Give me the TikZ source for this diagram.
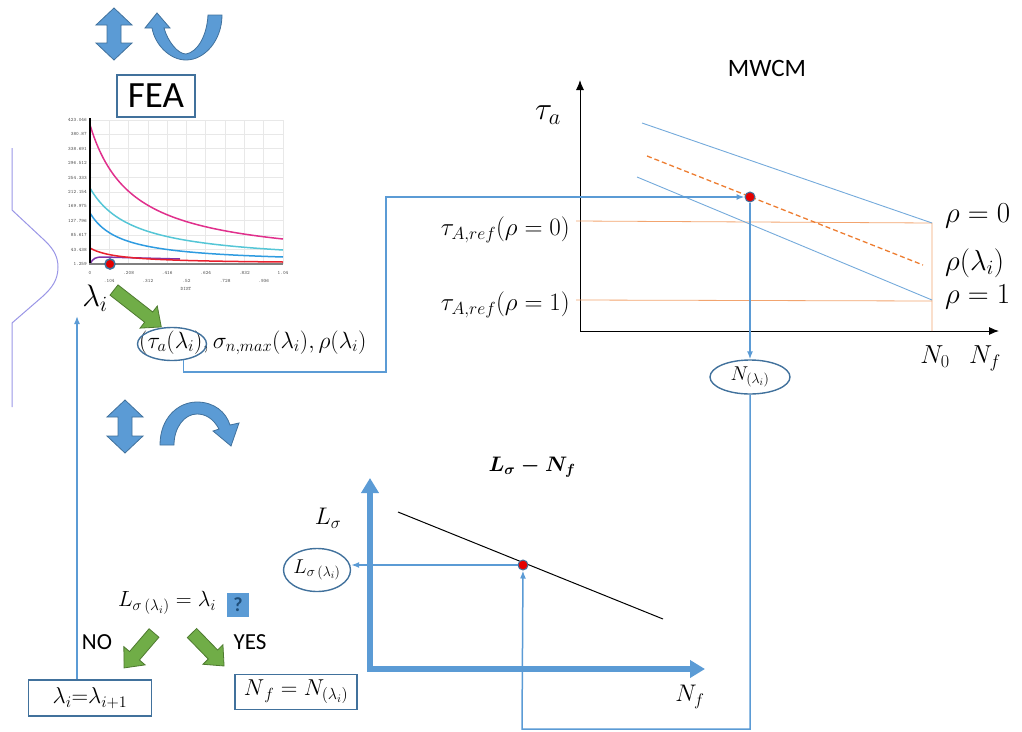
\RequirePackage{fix-cm}
\documentclass[tikz,border=0pt]{standalone}
\usepackage{amsmath}
\usepackage{fontspec}
\setsansfont{Carlito}
\usetikzlibrary{arrows.meta,shapes.geometric}

\definecolor{lnblue}{HTML}{5B9BD5}
\definecolor{dkblue}{HTML}{41719C}
\definecolor{qblue}{HTML}{1F4E79}
\definecolor{arrgreen}{HTML}{70AD47}
\definecolor{dkgreen}{HTML}{4E7A30}
\definecolor{snorange}{HTML}{ED7D31}
\definecolor{lavline}{HTML}{9A96E6}
\definecolor{femag}{HTML}{E0308C}
\definecolor{fecyan}{HTML}{55C6D6}
\definecolor{feblue}{HTML}{2E9BE0}
\definecolor{fered}{HTML}{E8202E}
\definecolor{fepurp}{HTML}{8034A8}

\newcommand\fs[1]{\fontsize{#1}{#1}\selectfont}

% 绿色块箭头：#1 尾点，#2 角度，#3 长度
\newcommand\garrow[3]{%
  \filldraw[garr, shift={#1}, rotate=#2]
    (0,-6.5) -- ({#3-16},-6.5) -- ({#3-16},-14) -- (#3,0)
    -- ({#3-16},14) -- ({#3-16},6.5) -- (0,6.5) -- cycle;}

% 蓝色上下双箭头：#1 上尖端，#2 总高
\newcommand\dblarrow[2]{%
  \filldraw[barr, shift={#1}]
    (0,0) -- (18,17) -- (7,17) -- (7,{#2-17}) -- (18,{#2-17}) -- (0,#2)
    -- (-18,{#2-17}) -- (-7,{#2-17}) -- (-7,17) -- (-18,17) -- cycle;}

\tikzset{
  flow/.style={draw=lnblue, line width=1.5pt, -{Latex[length=8pt,width=6pt]}},
  ell/.style={ellipse, draw=dkblue, line width=1.4pt, inner sep=0},
  tbox/.style={draw=dkblue, line width=1.4pt, inner sep=0},
  rdot/.style={circle, fill=red!90!black, draw=dkblue, line width=1pt, minimum size=10pt, inner sep=0},
  garr/.style={fill=arrgreen, draw=dkgreen, line width=0.8pt, line join=miter},
  barr/.style={fill=lnblue, draw=dkblue, line width=0.8pt, line join=miter},
  fegrid/.style={draw=gray!18, line width=0.8pt},
  fetick/.style={font=\ttfamily\fs{5}, text=gray!60!black, inner sep=0},
  snline/.style={draw=lnblue!85, line width=0.9pt},
  refline/.style={draw=snorange!70, line width=0.8pt},
  mlabel/.style={inner sep=0},
}

\begin{document}
\begin{tikzpicture}[x=1pt, y=-1pt, line cap=butt]

  \useasboundingbox (0,0) rectangle (1022,731);

  % ── 左上：双箭头 + U 形箭头 ──
  \dblarrow{(114,8)}{52}
  \filldraw[barr] (208,15) -- (222,15) .. controls (222,40) and (205,60) .. (186,60)
    .. controls (170,60) and (155,45) .. (152,28) -- (145,28) -- (157,13) -- (170,28) -- (164,28)
    .. controls (168,42) and (178,54) .. (186,54) .. controls (198,52) and (207,35) .. (208,15) -- cycle;

  \node[tbox, line width=2.5pt, minimum width=78pt, minimum height=42pt] (fea) at (156,96) {\sffamily\fs{37}FEA};

  % ── FEA 曲线图 ──
  \foreach \k in {1,...,10} {
    \draw[fegrid] ({90+19.3*\k},120) -- ({90+19.3*\k},264);
    \draw[fegrid] (90,{120+14.4*(\k-1)}) -- (283,{120+14.4*(\k-1)});
  }
  \foreach \v [count=\k from 0] in {423.046,380.87,338.691,296.512,254.333,212.154,169.975,127.796,85.617,43.438,1.259}
    \node[fetick, anchor=east] at (87,{120+14.4*\k}) {\v};
  \foreach \v [count=\k from 0] in {0,.208,.416,.624,.832,1.04}
    \node[fetick] at ({90+38.6*\k},273) {\v};
  \foreach \v [count=\k from 0] in {.104,.312,.52,.728,.936}
    \node[fetick] at ({109.3+38.6*\k},281) {\v};
  \node[fetick] at (186,289) {DIST};

  \draw[femag, line width=1.5pt] plot[domain=0:193, samples=60, smooth] ({90+\x},{264-5882/(\x+42.3)});
  \draw[fecyan, line width=1.5pt] plot[domain=0:193, samples=60, smooth] ({90+\x},{264-3313/(\x+43.6)});
  \draw[feblue, line width=1.5pt] plot[domain=0:193, samples=60, smooth] ({90+\x},{264-1566/(\x+30.7)});
  \draw[fepurp, line width=1.5pt] (90,264) .. controls (93,258) and (96,257) .. (103,257) -- (180,259);
  \draw[fered, line width=1.5pt] plot[domain=0:193, samples=60, smooth] ({90+\x},{264-441/(\x+27.6)});
  \draw[black, line width=2.5pt] (90,118) -- (90,265);
  \draw[gray, line width=2.5pt] (89,264) -- (283,264);
  \node[rdot, line width=1.6pt] (fedot) at (110,264) {};

  % ── 左侧紫线 ──
  \draw[lavline, line width=1pt] (12,148) -- (12,210) -- (42,238) .. controls (52,247) and (58,255) .. (58,267)
    .. controls (58,280) and (52,288) .. (42,297) -- (12,323) -- (12,407);

  \node[mlabel] (lam) at (95,298) {\fs{31}$\lambda_i$};
  \garrow{(114,290)}{-38}{60}

  \node[mlabel, anchor=west] (tautxt) at (139,343) {\fs{23.5}$(\tau_a(\lambda_i), \sigma_{n,max}(\lambda_i), \rho(\lambda_i)$};
  \node[ell, minimum width=69pt, minimum height=33pt] (tauell) at (172,344) {};

  % ── 左下：双箭头 + 弧形箭头 ──
  \dblarrow{(125,400)}{53}
  \filldraw[barr] (160,445) .. controls (160,418) and (178,402) .. (197,402)
    .. controls (214,402) and (226,412) .. (230,425) -- (239,423) -- (231,446) -- (213,431) -- (219,429)
    .. controls (213,418) and (205,414) .. (197,414) .. controls (184,414) and (174,428) .. (174,445) -- cycle;

  % ── MWCM 图 ──
  \node[mlabel] (mwcm) at (767,68) {\sffamily\fs{25}MWCM};
  \draw[black, line width=1pt, {Latex[length=10pt,width=8pt]}-{Latex[length=10pt,width=8pt]}] (580,80) -- (580,331) -- (999,331);
  \node[mlabel] (taua) at (548,115) {\fs{32}$\tau_a$};

  \draw[refline] (576,221) -- (932,223) -- (932,331);
  \draw[refline] (576,300) -- (932,301);
  \draw[snline] (642,123) -- (932,223);
  \draw[snline] (637,177) -- (932,300);
  \draw[snorange, line width=1.3pt, dash pattern=on 5pt off 3pt] (647,156) -- (923,265);

  \node[mlabel, anchor=east] (tref0) at (570,230) {\fs{25}$\tau_{A,ref}(\rho=0)$};
  \node[mlabel, anchor=east] (tref1) at (570,305) {\fs{25}$\tau_{A,ref}(\rho=1)$};
  \node[mlabel, anchor=west] (rho0) at (945,216) {\fs{29}$\rho=0$};
  \node[mlabel, anchor=west] (rhoi) at (945,263) {\fs{29}$\rho(\lambda_i)$};
  \node[mlabel, anchor=west] (rho1) at (945,297) {\fs{29}$\rho=1$};
  \node[mlabel] (n0) at (935,357) {\fs{26}$N_0$};
  \node[mlabel] (nf1) at (985,358) {\fs{26}$N_f$};

  \node[rdot] (mwdot) at (750,197) {};
  \node[ell, minimum width=80pt, minimum height=34pt] (nell) at (750,377) {\fs{20}$N_{(\lambda_i)}$};

  % ── L_sigma - N_f 图 ──
  \node[mlabel] (lstitle) at (532,467) {\fs{21}$\boldsymbol{L_\sigma - N_f}$};
  \draw[lnblue, line width=6pt, line join=miter, {Triangle[length=15pt,width=17pt]}-{Triangle[length=15pt,width=17pt]}] (370,478) -- (370,669) -- (705,669);
  \node[mlabel] (lsig) at (328,518) {\fs{24}$L_\sigma$};
  \node[mlabel] (nf2) at (690,697) {\fs{24}$N_f$};
  \draw[black, line width=1pt] (398,512) -- (663,619);
  \node[rdot] (lsdot) at (523,565) {};
  \node[ell, minimum width=67pt, minimum height=43pt] (lsell) at (317,570) {\fs{20}$L_{\sigma\,(\lambda_i)}$};

  % ── 判断 ──
  \node[mlabel] (cond) at (167,603) {\fs{22}$L_{\sigma\,(\lambda_i)}=\lambda_i$};
  \node[fill=lnblue, minimum width=22pt, minimum height=24pt, inner sep=0] (qbox) at (238,605) {\sffamily\bfseries\fs{20}\color{qblue}?};
  \node[mlabel] (no) at (97,642) {\sffamily\fs{23}NO};
  \node[mlabel] (yes) at (250,642) {\sffamily\fs{23}YES};
  \garrow{(154,633)}{-130.6}{46}
  \garrow{(192,633)}{-45.8}{46}

  \node[tbox, minimum width=123pt, minimum height=36pt] (lamnext) at (90,698) {\fs{23}$\lambda_i$=$\lambda_{i+1}$};
  \node[tbox, minimum width=122pt, minimum height=35pt] (nfbox) at (296,692) {\fs{23}$N_{\,f}=N_{(\lambda_i)}$};

  % ── 连线 ──
  \coordinate (bend1) at (386,372);
  \coordinate (bend2) at (522,729);
  \coordinate (lamup) at (77,316);
  \draw[flow] (tauell.-55) |- (bend1) |- (mwdot);
  \draw[flow] (mwdot) -- (nell);
  \draw[flow] (nell.south) |- (bend2) -- (lsdot);
  \draw[flow] (lsdot) -- (lsdot -| lsell.east);
  \draw[flow] (lamup |- lamnext.north) -- (lamup);

\end{tikzpicture}
\end{document}
